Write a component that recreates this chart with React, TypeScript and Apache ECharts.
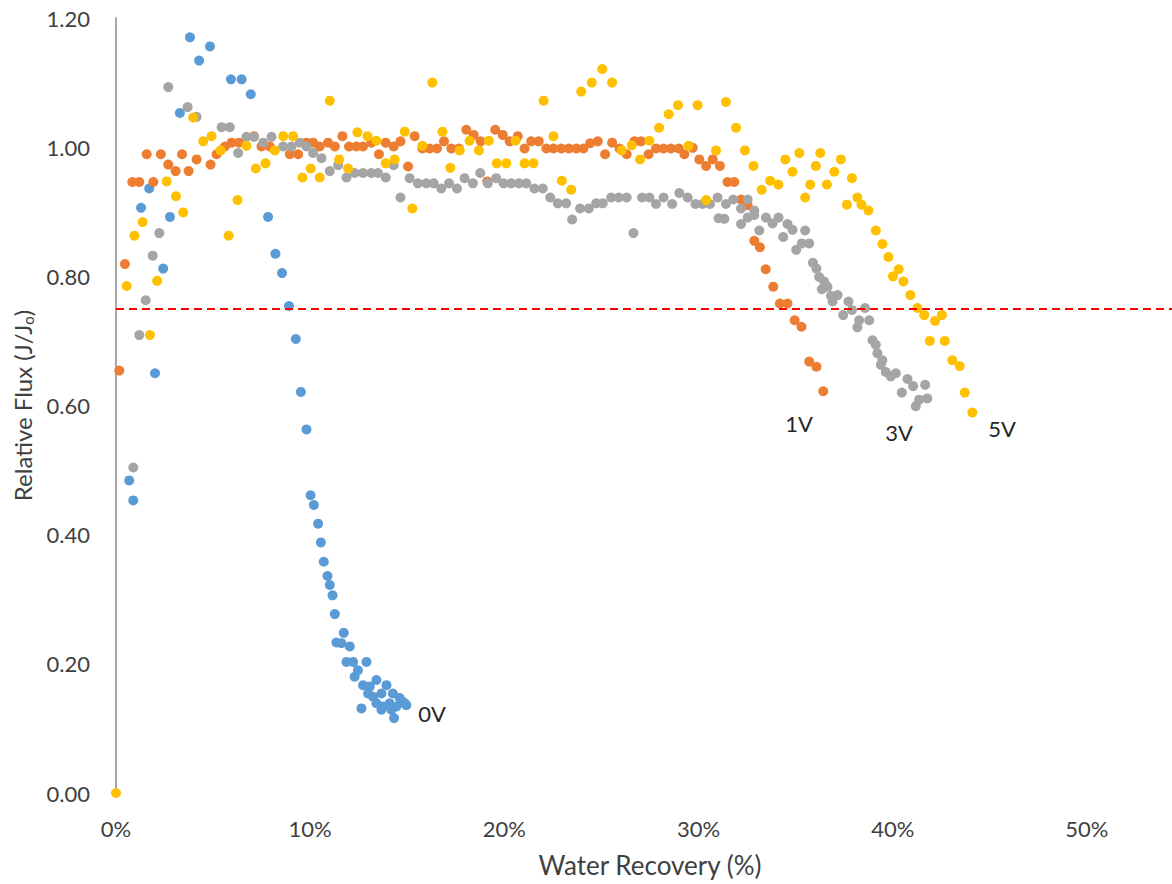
import React, { useEffect, useRef } from "react";
import * as echarts from "echarts";

// Water recovery (%) vs. relative flux J/Jo for each applied voltage
const flux0V: [number, number][] = [
  [0.68, 0.484], [0.89, 0.453], [1.29, 0.906], [1.71, 0.936], [2.01, 0.65], [2.43, 0.812],
  [2.78, 0.892], [3.29, 1.053], [3.81, 1.17], [4.28, 1.134], [4.84, 1.156], [5.92, 1.105],
  [6.47, 1.105], [6.94, 1.082], [7.83, 0.892], [8.21, 0.835], [8.55, 0.805], [8.91, 0.754],
  [9.26, 0.703], [9.52, 0.621], [9.81, 0.563], [10.02, 0.461], [10.19, 0.446], [10.41, 0.417],
  [10.55, 0.388], [10.7, 0.358], [10.89, 0.336], [11.01, 0.322], [11.15, 0.306], [11.27, 0.277],
  [11.35, 0.233], [11.61, 0.232], [11.73, 0.248], [11.87, 0.203], [12.04, 0.227], [12.21, 0.203],
  [12.29, 0.18], [12.46, 0.19], [12.64, 0.131], [12.72, 0.167], [12.9, 0.203], [12.98, 0.154],
  [13.07, 0.165], [13.24, 0.149], [13.41, 0.175], [13.41, 0.139], [13.67, 0.154], [13.67, 0.129],
  [13.75, 0.134], [13.93, 0.167], [14.09, 0.139], [14.18, 0.129], [14.26, 0.154], [14.32, 0.116],
  [14.44, 0.134], [14.61, 0.147], [14.78, 0.141], [14.87, 0.139], [14.95, 0.136],
];

const flux1V: [number, number][] = [
  [0.17, 0.654], [0.46, 0.819], [0.84, 0.946], [1.2, 0.946], [1.58, 0.989], [1.92, 0.946],
  [2.31, 0.989], [2.69, 0.973], [3.07, 0.963], [3.4, 0.989], [3.74, 0.963], [4.15, 0.981],
  [4.87, 0.973], [5.18, 0.989], [5.61, 1.001], [5.95, 1.007], [6.34, 1.007], [7.11, 1.017],
  [7.49, 1.001], [7.92, 1.001], [8.95, 0.989], [9.38, 0.989], [9.81, 1.007], [10.15, 1.007],
  [10.49, 1.001], [10.92, 1.007], [11.27, 1.001], [11.66, 1.017], [12.0, 1.001], [12.38, 1.001],
  [12.72, 1.001], [13.15, 1.007], [13.54, 0.989], [13.89, 1.007], [14.3, 1.001], [14.65, 1.009],
  [15.04, 0.97], [15.38, 1.017], [15.78, 0.998], [16.15, 0.998], [16.53, 0.998], [16.89, 1.009],
  [17.27, 0.998], [17.66, 0.998], [18.04, 1.027], [18.42, 1.019], [18.78, 1.009], [19.12, 0.947],
  [19.53, 1.027], [19.92, 1.019], [20.27, 1.009], [20.69, 1.017], [21.04, 0.998], [21.38, 1.009],
  [21.77, 1.009], [22.16, 0.998], [22.53, 0.998], [22.93, 0.998], [23.32, 0.998], [23.7, 0.998],
  [24.07, 0.998], [24.42, 1.006], [24.81, 1.009], [25.19, 0.989], [25.55, 1.007], [25.93, 0.998],
  [26.3, 0.989], [26.7, 1.009], [27.04, 1.009], [27.43, 0.989], [27.81, 0.998], [28.19, 0.998],
  [28.58, 0.998], [28.98, 0.998], [29.27, 0.989], [29.7, 0.999], [30.04, 0.981], [30.39, 0.971],
  [30.73, 0.981], [31.1, 0.971], [31.49, 0.946], [31.84, 0.946], [32.19, 0.919], [32.53, 0.91],
  [32.87, 0.855], [33.16, 0.845], [33.46, 0.811], [33.85, 0.784], [34.19, 0.758], [34.58, 0.758],
  [34.95, 0.732], [35.3, 0.722], [35.7, 0.668], [36.07, 0.66], [36.42, 0.622],
];

const flux3V: [number, number][] = [
  [0.89, 0.504], [1.2, 0.709], [1.53, 0.763], [1.89, 0.832], [2.23, 0.867], [2.69, 1.093],
  [3.69, 1.062], [4.15, 1.047], [5.44, 1.031], [5.86, 1.031], [6.29, 0.991], [6.72, 1.016],
  [7.11, 1.016], [7.58, 1.007], [8.01, 1.016], [8.61, 1.001], [9.04, 1.001], [9.47, 1.007],
  [9.81, 1.001], [10.15, 0.991], [10.58, 0.983], [11.01, 0.963], [11.44, 0.972], [11.87, 0.953],
  [12.29, 0.96], [12.72, 0.96], [13.15, 0.96], [13.49, 0.96], [13.89, 0.953], [14.3, 0.972],
  [14.65, 0.922], [15.12, 0.952], [15.55, 0.944], [15.98, 0.944], [16.36, 0.944], [16.75, 0.936],
  [17.15, 0.944], [17.56, 0.936], [17.95, 0.952], [18.38, 0.944], [18.76, 0.96], [19.15, 0.944],
  [19.58, 0.952], [19.96, 0.944], [20.35, 0.944], [20.75, 0.944], [21.13, 0.944], [21.55, 0.936],
  [21.98, 0.936], [22.36, 0.922], [22.75, 0.913], [23.18, 0.913], [23.49, 0.888], [23.9, 0.905],
  [24.35, 0.905], [24.73, 0.913], [25.07, 0.913], [25.5, 0.922], [25.89, 0.922], [26.3, 0.922],
  [26.65, 0.867], [27.09, 0.922], [27.47, 0.922], [27.81, 0.912], [28.2, 0.922], [28.64, 0.912],
  [29.01, 0.929], [29.44, 0.922], [29.84, 0.912], [30.21, 0.912], [30.59, 0.912], [30.98, 0.922],
  [31.03, 0.89], [31.33, 0.889], [31.41, 0.912], [31.79, 0.919], [32.19, 0.905], [32.19, 0.881],
  [32.53, 0.919], [32.53, 0.891], [32.87, 0.902], [32.87, 0.895], [33.13, 0.871], [33.47, 0.891],
  [33.81, 0.882], [34.12, 0.891], [34.36, 0.861], [34.58, 0.881], [34.84, 0.872], [35.03, 0.841],
  [35.32, 0.851], [35.49, 0.871], [35.7, 0.851], [35.89, 0.821], [36.07, 0.812], [36.21, 0.799],
  [36.35, 0.78], [36.47, 0.792], [36.64, 0.784], [36.82, 0.77], [36.9, 0.761], [37.16, 0.771],
  [37.45, 0.74], [37.72, 0.761], [37.9, 0.748], [38.18, 0.721], [38.27, 0.732], [38.58, 0.751],
  [38.79, 0.732], [38.96, 0.701], [39.13, 0.694], [39.21, 0.681], [39.39, 0.663], [39.47, 0.67],
  [39.64, 0.652], [39.9, 0.645], [40.16, 0.65], [40.47, 0.62], [40.76, 0.641], [41.05, 0.63],
  [41.19, 0.599], [41.36, 0.609], [41.67, 0.632], [41.78, 0.611],
];

const flux5V: [number, number][] = [
  [0, 0], [0.55, 0.785], [0.95, 0.863], [1.37, 0.884], [1.75, 0.709], [2.12, 0.793],
  [2.61, 0.947], [3.09, 0.924], [3.46, 0.899], [3.98, 1.046], [4.49, 1.009], [4.92, 1.017],
  [5.39, 0.995], [5.8, 0.863], [6.26, 0.918], [6.72, 1.002], [7.2, 0.967], [7.7, 0.975],
  [8.18, 0.995], [8.61, 1.017], [9.12, 1.017], [9.6, 0.953], [10.03, 0.967], [10.49, 0.953],
  [11.01, 1.072], [11.49, 0.981], [11.95, 0.967], [12.43, 1.023], [12.95, 1.017], [13.41, 1.01],
  [13.89, 0.975], [14.35, 0.981], [14.87, 1.024], [15.26, 0.905], [15.78, 1.002], [16.29, 1.1],
  [16.81, 1.024], [17.22, 0.968], [17.7, 0.995], [18.21, 1.01], [18.69, 0.995], [19.2, 1.01],
  [19.61, 0.975], [20.1, 0.975], [20.58, 1.01], [21.04, 0.975], [21.5, 0.975], [22.02, 1.072],
  [22.53, 1.017], [22.96, 0.948], [23.44, 0.934], [23.96, 1.086], [24.5, 1.1], [25.04, 1.121],
  [25.55, 1.1], [26.04, 0.995], [26.56, 1.003], [26.99, 0.981], [27.47, 1.01], [27.97, 1.03],
  [28.46, 1.051], [28.94, 1.065], [29.49, 1.002], [29.95, 1.065], [30.39, 0.918], [30.9, 0.995],
  [31.41, 1.07], [31.93, 1.03], [32.39, 0.995], [32.83, 0.971], [33.25, 0.934], [33.69, 0.948],
  [34.11, 0.942], [34.47, 0.981], [34.84, 0.962], [35.19, 0.991], [35.49, 0.922], [35.75, 0.942],
  [36.04, 0.971], [36.27, 0.991], [36.61, 0.942], [36.99, 0.962], [37.33, 0.981], [37.64, 0.911],
  [37.9, 0.952], [38.18, 0.922], [38.39, 0.911], [38.75, 0.902], [39.13, 0.871], [39.47, 0.85],
  [39.78, 0.83], [40.01, 0.8], [40.31, 0.811], [40.55, 0.792], [40.91, 0.771], [41.27, 0.751],
  [41.62, 0.74], [41.91, 0.7], [42.18, 0.731], [42.53, 0.74], [42.68, 0.7], [43.07, 0.67],
  [43.45, 0.661], [43.71, 0.62], [44.1, 0.589],
];

const seriesNames = ["0V", "1V", "3V", "5V"];
const seriesColors = ["#5B9BD5", "#ED7D31", "#A5A5A5", "#FFC000"];
const seriesData = [flux0V, flux1V, flux3V, flux5V];

// Reference flux threshold drawn as a dashed line
const thresholdFlux = 0.75;

const font = "Lato, 'Open Sans', sans-serif";
const textColor = "#404040";

export default function App() {
  const ref = useRef<HTMLDivElement>(null);

  useEffect(() => {
    const chart = echarts.init(ref.current!, null, { renderer: "svg" });

    const series: any[] = seriesData.map((data, i) => ({
      name: seriesNames[i],
      type: "scatter",
      data,
      symbol: "circle",
      symbolSize: 10,
      itemStyle: { color: seriesColors[i], opacity: 1 },
      z: 2 + i,
    }));

    series.push({
      type: "scatter",
      data: [],
      z: 10,
      markLine: {
        silent: true,
        symbol: ["none", "none"],
        label: { show: false },
        lineStyle: { color: "#FF0000", type: [8, 5], width: 2 },
        data: [{ yAxis: thresholdFlux }],
        z: 10,
      },
    });

    const seriesLabelPos: Record<string, [number, number]> = {
      "0V": [432, 713],
      "1V": [799, 423],
      "3V": [899, 432],
      "5V": [1002, 428],
    };

    chart.setOption({
      animation: false,
      backgroundColor: "#ffffff",
      textStyle: { fontFamily: font },
      // the plot area runs past the right edge of the canvas (axis up to 55%)
      grid: {
        left: 116,
        top: 18,
        width: 1068,
        height: 775,
        containLabel: false,
        outerBoundsMode: "none",
      },
      xAxis: {
        type: "value",
        min: 0,
        max: 55,
        interval: 10,
        axisLine: { show: false },
        axisTick: { show: false },
        splitLine: { show: false },
        axisLabel: {
          fontSize: 22,
          color: textColor,
          fontFamily: font,
          margin: 24,
          showMaxLabel: false,
          formatter: (v: number) => (v % 10 === 0 ? `${v}%` : ""),
        },
        name: "Water Recovery (%)",
        nameLocation: "middle",
        nameGap: 59,
        nameTextStyle: { fontSize: 26, color: textColor, fontFamily: font },
      },
      yAxis: {
        type: "value",
        min: 0,
        max: 1.2,
        interval: 0.2,
        axisLine: { show: true, lineStyle: { color: "#A6A6A6", width: 2 } },
        axisTick: { show: false },
        splitLine: { show: false },
        axisLabel: {
          fontSize: 22,
          color: textColor,
          fontFamily: font,
          margin: 26,
          formatter: (v: number) => v.toFixed(2),
        },
        name: "Relative Flux (J/J{sub|o})",
        nameLocation: "middle",
        nameGap: 80,
        nameRotate: 90,
        nameTextStyle: {
          fontSize: 24,
          color: textColor,
          fontFamily: font,
          rich: {
            sub: {
              fontSize: 15,
              color: textColor,
              fontFamily: font,
              verticalAlign: "bottom",
              padding: [12, 0, 0, 0],
            },
          },
        },
      },
      series,
      graphic: seriesNames.map((n) => ({
        type: "text",
        x: seriesLabelPos[n][0],
        y: seriesLabelPos[n][1],
        z: 20,
        style: {
          text: n,
          fill: "#262626",
          font: `22px ${font}`,
          textAlign: "center",
          textVerticalAlign: "middle",
        },
      })),
    });

    return () => chart.dispose();
  }, []);

  return (
    <div
      ref={ref}
      style={{ position: "fixed", left: 0, top: 0, width: 1172, height: 884, background: "#fff" }}
    />
  );
}
